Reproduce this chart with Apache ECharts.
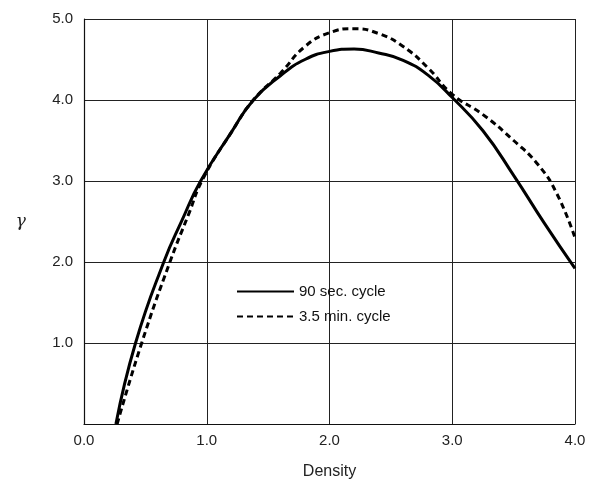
<!DOCTYPE html>
<html>
<head>
<meta charset="utf-8">
<script src="https://cdn.jsdelivr.net/npm/echarts@6/dist/echarts.min.js"></script>
<style>html,body{margin:0;padding:0;background:#fff}#c{width:594px;height:490px}</style>
</head>
<body>
<div id="c"></div>
<script>
const xTicks = [0, 1, 2, 3, 4];
const yTicks = [0, 1, 2, 3, 4, 5];
const seriesNames = ['90 sec. cycle', '3.5 min. cycle'];
const solidX = [0.26, 0.42, 0.65, 0.8, 0.95, 1.2, 1.38, 1.6, 1.8, 2.0, 2.2, 2.4, 2.6, 2.8, 3.0, 3.25, 3.5, 3.75, 4.0];
const solidY = [0, 1.0, 2.0, 2.52, 3.0, 3.6, 4.0, 4.3, 4.5, 4.6, 4.63, 4.58, 4.49, 4.31, 4.03, 3.62, 3.07, 2.48, 1.92];
const dashX = [0.27, 0.47, 0.70, 0.85, 0.97, 1.2, 1.38, 1.6, 1.8, 2.0, 2.2, 2.4, 2.6, 2.8, 3.0, 3.25, 3.5, 3.7, 3.85, 4.0];
const dashY = [0, 1.0, 2.0, 2.58, 3.03, 3.6, 4.0, 4.33, 4.66, 4.83, 4.88, 4.82, 4.66, 4.40, 4.07, 3.82, 3.5, 3.2, 2.85, 2.3];

const zip = (a, b) => a.map((v, i) => [v, b[i]]);
const font = 'Liberation Sans, Arial, sans-serif';
const chart = echarts.init(document.getElementById('c'), null, {renderer: 'canvas'});
chart.setOption({
  animation: false,
  backgroundColor: '#fff',
  grid: {left: 84, right: 19, top: 19, bottom: 66},
  legend: {
    orient: 'vertical', left: 231, top: 279, itemWidth: 57, itemHeight: 12, itemGap: 10,
    itemStyle: {opacity: 0},
    textStyle: {fontFamily: font, fontSize: 15, color: '#111'},
    data: seriesNames
  },
  xAxis: {
    type: 'value', min: xTicks[0], max: xTicks[xTicks.length - 1], interval: 1,
    name: 'Density', nameLocation: 'middle', nameGap: 40,
    nameTextStyle: {fontFamily: font, fontSize: 16, color: '#222'},
    axisLine: {lineStyle: {color: '#111', width: 1.2}},
    axisTick: {show: false},
    axisLabel: {fontFamily: font, fontSize: 15, color: '#222', margin: 9, formatter: v => v.toFixed(1)},
    splitLine: {show: true, lineStyle: {color: '#222', width: 1}}
  },
  yAxis: {
    type: 'value', min: yTicks[0], max: yTicks[yTicks.length - 1], interval: 1,
    name: 'γ', nameLocation: 'middle', nameGap: 58, nameRotate: 0,
    nameTextStyle: {fontFamily: 'DejaVu Serif, serif', fontStyle: 'italic', fontSize: 17, color: '#222'},
    axisLine: {show: true, lineStyle: {color: '#111', width: 1.2}},
    axisTick: {show: false},
    axisLabel: {fontFamily: font, fontSize: 15, color: '#222', margin: 11, formatter: v => v === 0 ? '' : v.toFixed(1)},
    splitLine: {show: true, lineStyle: {color: '#222', width: 1}}
  },
  series: [
    {name: seriesNames[0], type: 'line', data: zip(solidX, solidY), smooth: 0.5, symbol: 'none',
     lineStyle: {color: '#000', width: 3, type: 'solid'}, itemStyle: {color: '#000'}},
    {name: seriesNames[1], type: 'line', data: zip(dashX, dashY), smooth: 0.5, symbol: 'none',
     lineStyle: {color: '#000', width: 3, type: [6, 4]}, itemStyle: {color: '#000'}}
  ]
});
</script>
</body>
</html>
